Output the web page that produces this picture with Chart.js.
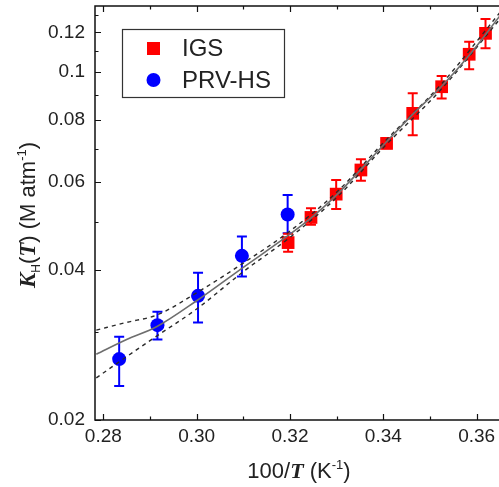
<!DOCTYPE html>
<html><head><meta charset="utf-8">
<script src="https://cdn.jsdelivr.net/npm/chart.js@4/dist/chart.umd.min.js"></script>
<style>html,body{margin:0;padding:0;background:#fff;}#wrap{width:499px;height:487px;position:relative;}</style>
</head><body><div id="wrap"><canvas id="c" width="499" height="487"></canvas></div>
<script>
// ---- data ----
const igsX    = [0.3196, 0.3245, 0.3299, 0.3352, 0.3407, 0.3463, 0.3525, 0.3584, 0.3619];
const igsY    = [0.0454, 0.0510, 0.0568, 0.0635, 0.0718, 0.0825, 0.0933, 0.1084, 0.1194];
const igsLow  = [0.0435, 0.0493, 0.0530, 0.0604, 0.0702, 0.0746, 0.0884, 0.1011, 0.1114];
const igsHigh = [0.0473, 0.0532, 0.0606, 0.0667, 0.0735, 0.0905, 0.0980, 0.1149, 0.1276];

const prvX    = [0.2834, 0.2916, 0.3003, 0.3097, 0.3195];
const prvY    = [0.0265, 0.0310, 0.0355, 0.0427, 0.0517];
const prvLow  = [0.0234, 0.0290, 0.0314, 0.0388, 0.0474];
const prvHigh = [0.0294, 0.0330, 0.0395, 0.0467, 0.0566];

const fitX = [0.2785, 0.285, 0.2915, 0.30, 0.31, 0.32, 0.325, 0.33, 0.34, 0.3465, 0.3525, 0.3585, 0.365];
const fitY = [0.0271, 0.0290, 0.0308, 0.0347, 0.0405, 0.0472, 0.0513, 0.0566, 0.0712, 0.0825, 0.0935, 0.1082, 0.1295];

const bandX  = [0.2785, 0.285, 0.2915, 0.30, 0.31, 0.32, 0.33, 0.34, 0.3525, 0.365];
const upperY = [0.0303, 0.0314, 0.0325, 0.0360, 0.0413, 0.0479, 0.0573, 0.0720, 0.0946, 0.1315];
const lowerY = [0.0243, 0.0268, 0.0295, 0.0334, 0.0397, 0.0465, 0.0559, 0.0704, 0.0924, 0.1276];

const xTicks = [0.28, 0.29, 0.30, 0.31, 0.32, 0.33, 0.34, 0.35, 0.36];
const xLabels = ['0.28', '', '0.30', '', '0.32', '', '0.34', '', '0.36'];
const yTicks = [0.02, 0.03, 0.04, 0.05, 0.06, 0.07, 0.08, 0.09, 0.1, 0.11, 0.12, 0.13];
const yLabels = ['0.02', '', '0.04', '', '0.06', '', '0.08', '', '0.1', '', '0.12', ''];

const seriesNames = ['IGS', 'PRV-HS'];
const xTitle = ['100/', 'T', ' (K', '-1', ')'];
const yTitle = ['K', 'H', '(', 'T', ')', ' (M atm', '-1', ')'];

const RED = '#ff0000', BLUE = '#0000ff';
const SANS = '"Liberation Sans", Arial, sans-serif';
const SERIF = '"Liberation Serif", "Times New Roman", serif';

const pts = (xs, ys) => xs.map((x, i) => ({x, y: ys[i]}));

function drawRich(ctx, segs, cx, cy, rot) {
  ctx.save();
  ctx.translate(cx, cy);
  ctx.rotate(rot);
  let w = 0;
  segs.forEach(s => { ctx.font = s.font; s.w = ctx.measureText(s.text).width; w += s.w; });
  let x = -w / 2;
  ctx.fillStyle = '#222';
  ctx.textBaseline = 'alphabetic';
  ctx.textAlign = 'left';
  segs.forEach(s => { ctx.font = s.font; ctx.fillText(s.text, x, s.dy); x += s.w; });
  ctx.restore();
}

const decor = {
  id: 'decor',
  beforeDatasetsDraw(chart) {
    const {ctx, scales: {x, y}} = chart;
    ctx.save();
    const bars = (xs, lo, hi, col) => {
      ctx.strokeStyle = col; ctx.lineWidth = 2;
      xs.forEach((v, i) => {
        const px = x.getPixelForValue(v), p1 = y.getPixelForValue(lo[i]), p2 = y.getPixelForValue(hi[i]);
        ctx.beginPath();
        ctx.moveTo(px, p1); ctx.lineTo(px, p2);
        ctx.moveTo(px - 5, p1); ctx.lineTo(px + 5, p1);
        ctx.moveTo(px - 5, p2); ctx.lineTo(px + 5, p2);
        ctx.stroke();
      });
    };
    bars(prvX, prvLow, prvHigh, BLUE);
    bars(igsX, igsLow, igsHigh, RED);
    ctx.restore();
  },
  afterDraw(chart) {
    const {ctx, chartArea: a, scales: {x, y}} = chart;
    ctx.save();
    // frame (left, bottom, top)
    ctx.strokeStyle = '#111'; ctx.lineWidth = 1.5;
    ctx.beginPath();
    ctx.moveTo(a.right, a.top); ctx.lineTo(a.left, a.top); ctx.lineTo(a.left, a.bottom); ctx.lineTo(a.right, a.bottom);
    ctx.stroke();
    // inward ticks
    ctx.lineWidth = 1.2;
    ctx.beginPath();
    xTicks.forEach((v, i) => {
      const px = Math.round(x.getPixelForValue(v)) + 0.5, len = xLabels[i] ? 6 : 3.5;
      ctx.moveTo(px, a.bottom); ctx.lineTo(px, a.bottom - len);
      ctx.moveTo(px, a.top); ctx.lineTo(px, a.top + len);
    });
    yTicks.forEach((v, i) => {
      if (v > y.max) return;
      const py = Math.round(y.getPixelForValue(v)) + 0.5, len = yLabels[i] ? 6 : 3.5;
      ctx.moveTo(a.left, py); ctx.lineTo(a.left + len, py);
    });
    ctx.stroke();
    // legend box
    const lx = 122, ly = 29, lw = 162, lh = 68;
    ctx.fillStyle = '#fff';
    ctx.fillRect(lx, ly, lw, lh);
    ctx.strokeStyle = '#333'; ctx.lineWidth = 1.2;
    ctx.strokeRect(lx + 0.5, ly + 0.5, lw, lh);
    ctx.fillStyle = RED; ctx.fillRect(147, 42, 13, 13);
    ctx.fillStyle = BLUE; ctx.beginPath(); ctx.arc(153.5, 80, 7, 0, Math.PI * 2); ctx.fill();
    ctx.fillStyle = '#222'; ctx.font = '24px ' + SANS; ctx.textBaseline = 'middle'; ctx.textAlign = 'left';
    ctx.fillText(seriesNames[0], 182, 49);
    ctx.fillText(seriesNames[1], 182, 81);
    // axis titles
    const f = 22;
    drawRich(ctx, [
      {text: xTitle[0], font: f + 'px ' + SANS, dy: 0},
      {text: xTitle[1], font: 'italic bold ' + f + 'px ' + SERIF, dy: 0},
      {text: xTitle[2], font: f + 'px ' + SANS, dy: 0},
      {text: xTitle[3], font: '13px ' + SANS, dy: -9},
      {text: xTitle[4], font: f + 'px ' + SANS, dy: 0}
    ], (a.left + a.right) / 2 + 2, 478, 0);
    drawRich(ctx, [
      {text: yTitle[0], font: 'italic bold ' + (f + 1) + 'px ' + SERIF, dy: 0},
      {text: yTitle[1], font: '12px ' + SANS, dy: 5},
      {text: yTitle[2], font: f + 'px ' + SANS, dy: 0},
      {text: yTitle[3], font: 'italic bold ' + (f + 1) + 'px ' + SERIF, dy: 0},
      {text: yTitle[4], font: f + 'px ' + SANS, dy: 0},
      {text: yTitle[5], font: f + 'px ' + SANS, dy: 0},
      {text: yTitle[6], font: '13px ' + SANS, dy: -9},
      {text: yTitle[7], font: f + 'px ' + SANS, dy: 0}
    ], 35, (a.top + a.bottom) / 2 + 2, -Math.PI / 2);
    ctx.restore();
  }
};

new Chart(document.getElementById('c'), {
  type: 'scatter',
  data: {
    datasets: [
      {label: 'fit', data: pts(fitX, fitY), showLine: true, borderColor: '#6e6e6e', borderWidth: 1.6,
       pointRadius: 0, cubicInterpolationMode: 'monotone'},
      {label: 'upper', data: pts(bandX, upperY), showLine: true, borderColor: '#2a2a2a', borderWidth: 1.4,
       borderDash: [4, 4], pointRadius: 0, cubicInterpolationMode: 'monotone'},
      {label: 'lower', data: pts(bandX, lowerY), showLine: true, borderColor: '#2a2a2a', borderWidth: 1.4,
       borderDash: [4, 4], pointRadius: 0, cubicInterpolationMode: 'monotone'},
      {label: seriesNames[0], data: pts(igsX, igsY), pointStyle: 'rect', pointRadius: 9,
       backgroundColor: RED, borderWidth: 0},
      {label: seriesNames[1], data: pts(prvX, prvY), pointStyle: 'circle', pointRadius: 7,
       backgroundColor: BLUE, borderWidth: 0}
    ]
  },
  options: {
    responsive: false, animation: false, devicePixelRatio: 1,
    layout: {autoPadding: false, padding: {top: 6, right: 0, left: 0, bottom: 0}},
    plugins: {legend: {display: false}, tooltip: {enabled: false}},
    scales: {
      x: {
        type: 'linear', min: 0.27822, max: 0.36479,
        afterFit: s => { s.height = 67; s.paddingLeft = 0; s.paddingRight = 0; s.paddingTop = 0; s.paddingBottom = 0; },
        afterBuildTicks: s => { s.ticks = xTicks.map(v => ({value: v})); },
        grid: {display: false, drawTicks: false}, border: {display: false},
        ticks: {autoSkip: false, maxRotation: 0, padding: 5, color: '#222',
          font: {family: SANS, size: 19},
          callback: (v) => { const i = xTicks.findIndex(t => Math.abs(t - v) < 1e-6); return i >= 0 ? xLabels[i] : ''; }}
      },
      y: {
        type: 'logarithmic', min: 0.02, max: 0.13549,
        afterFit: s => { s.width = 95; s.paddingLeft = 0; s.paddingRight = 0; s.paddingTop = 0; s.paddingBottom = 0; },
        afterBuildTicks: s => { s.ticks = yTicks.filter(v => v <= 0.13549).map(v => ({value: v})); },
        grid: {display: false, drawTicks: false}, border: {display: false},
        ticks: {autoSkip: false, padding: 10, color: '#222',
          font: {family: SANS, size: 19},
          callback: (v) => { const i = yTicks.findIndex(t => Math.abs(t - v) < 1e-6); return i >= 0 ? yLabels[i] : ''; }}
      }
    }
  },
  plugins: [decor]
});
</script>
</body></html>
